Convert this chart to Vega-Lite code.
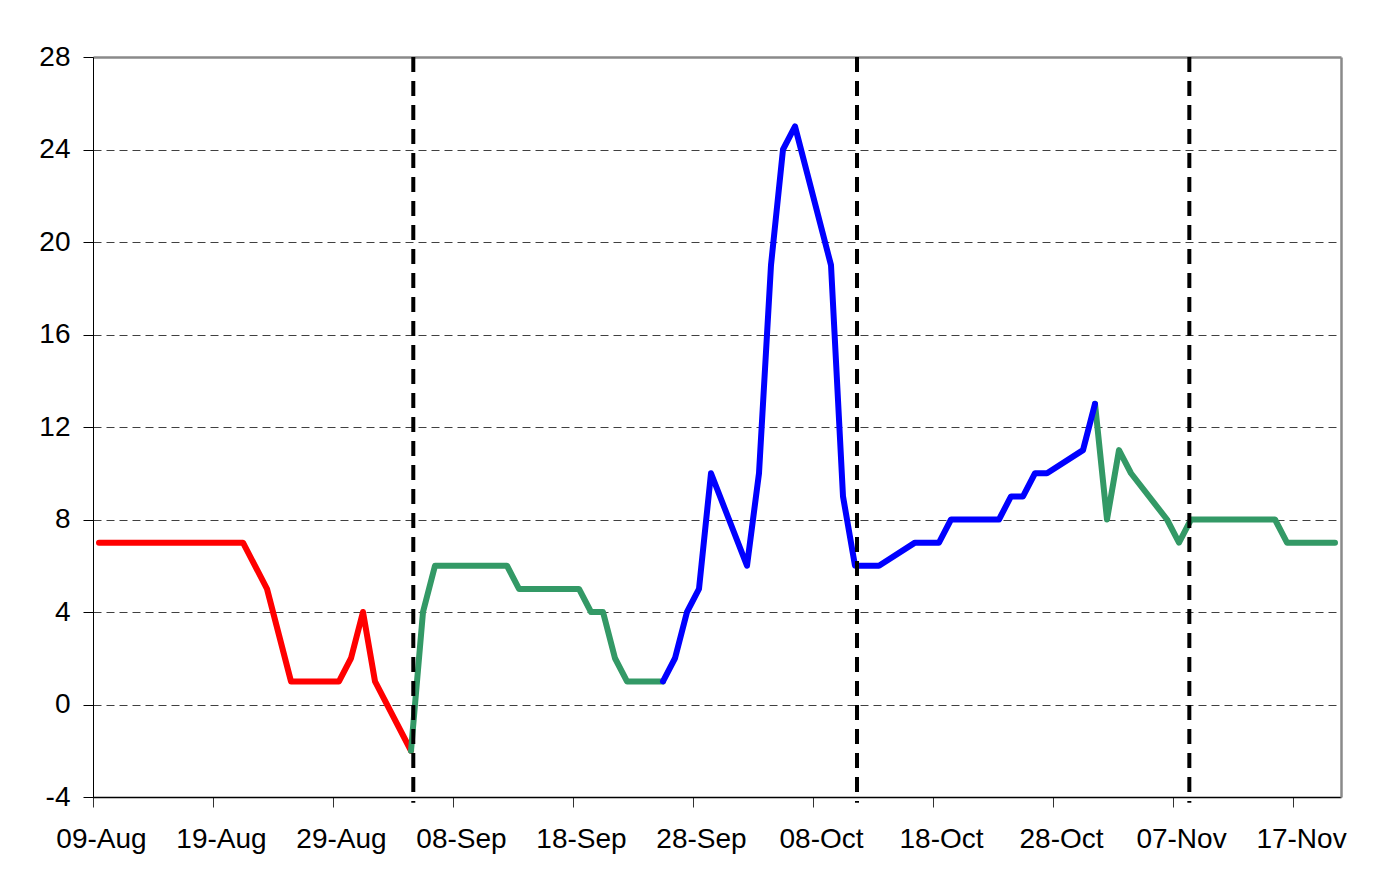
{
  "$schema": "https://vega.github.io/schema/vega-lite/v6.json",
  "width": 1248,
  "height": 740,
  "autosize": {"type": "none"},
  "padding": {"left": 93, "top": 57, "right": 59, "bottom": 88},
  "background": "white",
  "config": {
    "view": {"stroke": null},
    "font": "Liberation Sans",
    "axis": {"labelFont": "Liberation Sans", "labelFontSize": 28, "labelColor": "black"}
  },
  "datasets": {
    "series": [
      {"date": "2007-08-09T12:00", "value": 7, "seg": "a_red"},
      {"date": "2007-08-21T12:00", "value": 7, "seg": "a_red"},
      {"date": "2007-08-23T12:00", "value": 5, "seg": "a_red"},
      {"date": "2007-08-24T12:00", "value": 3, "seg": "a_red"},
      {"date": "2007-08-25T12:00", "value": 1, "seg": "a_red"},
      {"date": "2007-08-29T12:00", "value": 1, "seg": "a_red"},
      {"date": "2007-08-30T12:00", "value": 2, "seg": "a_red"},
      {"date": "2007-08-31T12:00", "value": 4, "seg": "a_red"},
      {"date": "2007-09-01T12:00", "value": 1, "seg": "a_red"},
      {"date": "2007-09-04T12:00", "value": -2, "seg": "a_red"},
      {"date": "2007-09-04T12:00", "value": -2, "seg": "b_green1"},
      {"date": "2007-09-05T12:00", "value": 4, "seg": "b_green1"},
      {"date": "2007-09-06T12:00", "value": 6, "seg": "b_green1"},
      {"date": "2007-09-12T12:00", "value": 6, "seg": "b_green1"},
      {"date": "2007-09-13T12:00", "value": 5, "seg": "b_green1"},
      {"date": "2007-09-18T12:00", "value": 5, "seg": "b_green1"},
      {"date": "2007-09-19T12:00", "value": 4, "seg": "b_green1"},
      {"date": "2007-09-20T12:00", "value": 4, "seg": "b_green1"},
      {"date": "2007-09-21T12:00", "value": 2, "seg": "b_green1"},
      {"date": "2007-09-22T12:00", "value": 1, "seg": "b_green1"},
      {"date": "2007-09-25T12:00", "value": 1, "seg": "b_green1"},
      {"date": "2007-10-31T12:00", "value": 13, "seg": "c_green2"},
      {"date": "2007-11-01T12:00", "value": 8, "seg": "c_green2"},
      {"date": "2007-11-02T12:00", "value": 11, "seg": "c_green2"},
      {"date": "2007-11-03T12:00", "value": 10, "seg": "c_green2"},
      {"date": "2007-11-06T12:00", "value": 8, "seg": "c_green2"},
      {"date": "2007-11-07T12:00", "value": 7, "seg": "c_green2"},
      {"date": "2007-11-08T12:00", "value": 8, "seg": "c_green2"},
      {"date": "2007-11-15T12:00", "value": 8, "seg": "c_green2"},
      {"date": "2007-11-16T12:00", "value": 7, "seg": "c_green2"},
      {"date": "2007-11-20T12:00", "value": 7, "seg": "c_green2"},
      {"date": "2007-09-25T12:00", "value": 1, "seg": "d_blue"},
      {"date": "2007-09-26T12:00", "value": 2, "seg": "d_blue"},
      {"date": "2007-09-27T12:00", "value": 4, "seg": "d_blue"},
      {"date": "2007-09-28T12:00", "value": 5, "seg": "d_blue"},
      {"date": "2007-09-29T12:00", "value": 10, "seg": "d_blue"},
      {"date": "2007-10-02T12:00", "value": 6, "seg": "d_blue"},
      {"date": "2007-10-03T12:00", "value": 10, "seg": "d_blue"},
      {"date": "2007-10-04T12:00", "value": 19, "seg": "d_blue"},
      {"date": "2007-10-05T12:00", "value": 24, "seg": "d_blue"},
      {"date": "2007-10-06T12:00", "value": 25, "seg": "d_blue"},
      {"date": "2007-10-09T12:00", "value": 19, "seg": "d_blue"},
      {"date": "2007-10-10T12:00", "value": 9, "seg": "d_blue"},
      {"date": "2007-10-11T12:00", "value": 6, "seg": "d_blue"},
      {"date": "2007-10-13T12:00", "value": 6, "seg": "d_blue"},
      {"date": "2007-10-16T12:00", "value": 7, "seg": "d_blue"},
      {"date": "2007-10-18T12:00", "value": 7, "seg": "d_blue"},
      {"date": "2007-10-19T12:00", "value": 8, "seg": "d_blue"},
      {"date": "2007-10-23T12:00", "value": 8, "seg": "d_blue"},
      {"date": "2007-10-24T12:00", "value": 9, "seg": "d_blue"},
      {"date": "2007-10-25T12:00", "value": 9, "seg": "d_blue"},
      {"date": "2007-10-26T12:00", "value": 10, "seg": "d_blue"},
      {"date": "2007-10-27T12:00", "value": 10, "seg": "d_blue"},
      {"date": "2007-10-30T12:00", "value": 11, "seg": "d_blue"},
      {"date": "2007-10-31T12:00", "value": 13, "seg": "d_blue"}
    ],
    "vlines": [
      {"date": "2007-09-04T16:35"},
      {"date": "2007-10-11T16:00"},
      {"date": "2007-11-08T08:40"}
    ]
  },
  "layer": [
    {
      "data": {"name": "series"},
      "mark": {"type": "line", "strokeWidth": 6, "strokeCap": "round", "strokeJoin": "round"},
      "encoding": {
        "x": {
          "field": "date", "type": "temporal",
          "scale": {"domain": [{"year": 2007, "month": 8, "date": 9}, {"year": 2007, "month": 11, "date": 21}], "nice": false},
          "axis": {
            "orient": "bottom", "title": null, "format": "%d-%b", "grid": false,
            "values": [
              {"year": 2007, "month": 8, "date": 9},
              {"year": 2007, "month": 8, "date": 19},
              {"year": 2007, "month": 8, "date": 29},
              {"year": 2007, "month": 9, "date": 8},
              {"year": 2007, "month": 9, "date": 18},
              {"year": 2007, "month": 9, "date": 28},
              {"year": 2007, "month": 10, "date": 8},
              {"year": 2007, "month": 10, "date": 18},
              {"year": 2007, "month": 10, "date": 28},
              {"year": 2007, "month": 11, "date": 7},
              {"year": 2007, "month": 11, "date": 17}
            ],
            "domainColor": "black", "domainWidth": 1.5,
            "tickColor": "#333", "tickSize": 10, "tickWidth": 1,
            "labelPadding": 18, "labelOffset": 8, "labelFlush": false, "labelOverlap": false
          }
        },
        "y": {
          "field": "value", "type": "quantitative",
          "scale": {"domain": [-4, 28], "nice": false, "zero": false},
          "axis": {
            "orient": "left", "title": null, "values": [-4, 0, 4, 8, 12, 16, 20, 24, 28],
            "labelExpr": "'' + datum.value",
            "grid": true, "gridColor": "#404040", "gridDash": [8, 5], "gridWidth": 1,
            "domainColor": "black", "domainWidth": 1,
            "tickColor": "black", "tickSize": 10, "tickWidth": 1,
            "labelPadding": 13, "labelFlush": false
          }
        },
        "color": {
          "field": "seg", "type": "nominal", "legend": null,
          "scale": {"domain": ["a_red", "b_green1", "c_green2", "d_blue"], "range": ["#FF0000", "#339966", "#339966", "#0000FF"]}
        }
      }
    },
    {
      "data": {"name": "vlines"},
      "mark": {"type": "rule", "color": "black", "strokeWidth": 4, "strokeDash": [15, 9], "strokeCap": "butt"},
      "encoding": {
        "x": {
          "field": "date", "type": "temporal",
          "axis": {"orient": "top", "title": null, "labels": false, "ticks": false, "grid": false, "domainColor": "#8a8a8a", "domainWidth": 2.5}
        },
        "y": {"datum": 28, "type": "quantitative", "axis": {"orient": "right", "title": null, "labels": false, "ticks": false, "grid": false, "domainColor": "#8a8a8a", "domainWidth": 2.5}},
        "y2": {"datum": -4.25}
      }
    }
  ],
  "resolve": {"axis": {"x": "independent", "y": "independent"}}
}
